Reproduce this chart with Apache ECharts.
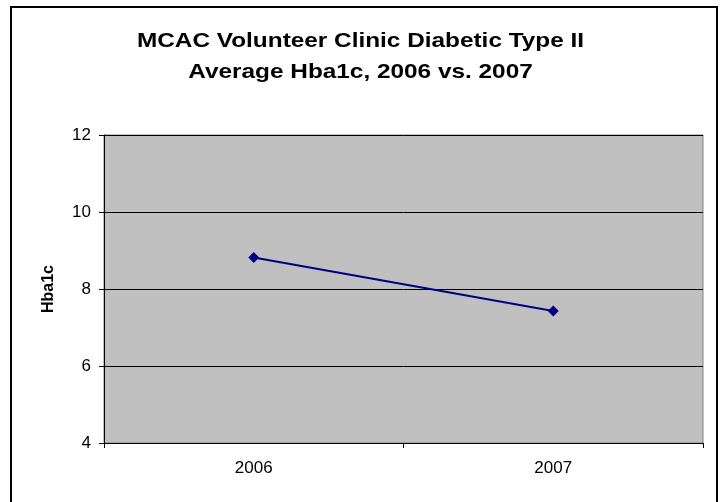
<!DOCTYPE html>
<html>
<head>
<meta charset="utf-8">
<script src="https://cdn.jsdelivr.net/npm/echarts@6/dist/echarts.min.js"></script>
<style>
html,body{margin:0;padding:0;background:#fff;}
#chart{width:721px;height:502px;}
</style>
</head>
<body>
<div id="chart"></div>
<script>
const titleLines = ["MCAC Volunteer Clinic Diabetic Type II", "Average Hba1c, 2006 vs. 2007"];
const categories = ["2006", "2007"];
const hba1cValues = [8.82, 7.43];
const yAxisName = "Hba1c";
const yMin = 4, yMax = 12, yStep = 2;

const FONT = 'Liberation Sans, Arial, sans-serif';
const chart = echarts.init(document.getElementById('chart'), null, {renderer: 'canvas'});
chart.setOption({
  animation: false,
  backgroundColor: '#ffffff',
  graphic: [{
    type: 'rect',
    shape: {x: 11, y: 7, width: 706, height: 500},
    style: {fill: 'none', stroke: '#000', lineWidth: 2},
    silent: true
  }, {
    type: 'text',
    x: 360.5, y: 41, scaleX: 1.16,
    style: {text: titleLines[0], font: 'bold 21px ' + FONT, fill: '#000', textAlign: 'center', textVerticalAlign: 'middle'}
  }, {
    type: 'text',
    x: 360.5, y: 72, scaleX: 1.16,
    style: {text: titleLines[1], font: 'bold 21px ' + FONT, fill: '#000', textAlign: 'center', textVerticalAlign: 'middle'}
  }],
  grid: {
    left: 104, top: 135, width: 599, height: 308,
    show: true,
    backgroundColor: '#c0c0c0',
    borderColor: '#808080',
    borderWidth: 1
  },
  xAxis: {
    type: 'category',
    data: categories,
    boundaryGap: true,
    axisLine: {show: true, lineStyle: {color: '#000', width: 1}},
    axisTick: {show: true, length: 5, alignWithLabel: false, lineStyle: {color: '#000'}},
    axisLabel: {margin: 17, color: '#000', fontFamily: FONT, fontSize: 17},
    splitLine: {show: false}
  },
  yAxis: {
    type: 'value',
    min: yMin, max: yMax, interval: yStep,
    name: yAxisName,
    nameLocation: 'middle',
    nameGap: 47,
    nameRotate: 90,
    nameTextStyle: {fontFamily: FONT, fontSize: 16, fontWeight: 'bold', color: '#000'},
    axisLine: {show: true, lineStyle: {color: '#000', width: 1}},
    axisTick: {show: true, length: 5, lineStyle: {color: '#000'}},
    axisLabel: {margin: 13, color: '#000', fontFamily: FONT, fontSize: 17},
    splitLine: {show: true, lineStyle: {color: '#000', width: 1}}
  },
  series: [{
    type: 'line',
    data: hba1cValues,
    symbol: 'diamond',
    symbolSize: 11,
    lineStyle: {color: '#000080', width: 2},
    itemStyle: {color: '#000080'},
    z: 5
  }]
});
</script>
</body>
</html>
